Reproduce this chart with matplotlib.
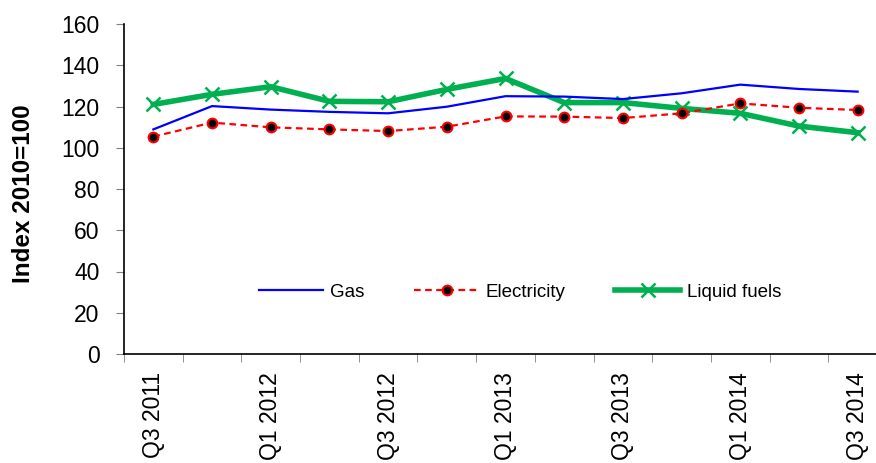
import matplotlib
matplotlib.use("Agg")
import matplotlib.pyplot as plt
import numpy as np

plt.rcParams['font.family'] = ['Liberation Sans', 'DejaVu Sans']

quarters = ["Q3 2011", "Q4 2011", "Q1 2012", "Q2 2012", "Q3 2012", "Q4 2012",
            "Q1 2013", "Q2 2013", "Q3 2013", "Q4 2013", "Q1 2014", "Q2 2014", "Q3 2014"]
gas = [108.9, 120.2, 118.5, 117.4, 116.7, 119.9, 125.0, 124.8, 123.6, 126.4, 130.6, 128.5, 127.2]
electricity = [105.4, 112.2, 109.9, 108.9, 108.1, 110.2, 115.2, 115.1, 114.4, 116.7, 121.5, 119.4, 118.3]
liquid_fuels = [121.0, 125.9, 129.6, 122.5, 122.3, 128.3, 133.6, 121.9, 121.9, 119.1, 116.7, 110.5, 107.3]

fig = plt.figure(figsize=(8.76, 4.63), dpi=100)
W, H = 876, 463
left, right, top, bottom = 124, 887, 24, 354
ax = fig.add_axes([left / W, (H - bottom) / H, (right - left) / W, (bottom - top) / H])

x = np.arange(len(quarters))
ax.plot(x, gas, color="#0000FF", lw=1.6, label="Gas", zorder=3)
ax.plot(x, electricity, color="#FF0000", lw=1.6, ls=(0, (3, 2)), marker="o",
        markersize=7, markerfacecolor="black", markeredgecolor="#FF0000",
        markeredgewidth=1.5, label="Electricity", zorder=4)
ax.plot(x, liquid_fuels, color="#00B050", lw=4, marker="x", markersize=10,
        markeredgewidth=1.8, label="Liquid fuels", zorder=2)

ax.set_xlim(-0.5, len(quarters) - 0.5)
ax.set_ylim(0, 160)
ax.set_yticks(np.arange(0, 161, 20))

ax.set_xticks(x[::2])
ax.set_xticklabels(quarters[::2], rotation=90, fontsize=16.5, va="top", ha="center")
ax.set_xticks(np.arange(-0.5, len(quarters), 1), minor=True)
ax.tick_params(axis="x", which="major", length=0, pad=13)
ax.tick_params(axis="x", which="minor", length=6, direction="out", color="#808080")
ax.tick_params(axis="y", labelsize=16.5, length=6, direction="out", color="#808080", pad=11.5)

for s in ("top", "right"):
    ax.spines[s].set_visible(False)
ax.spines["left"].set_linewidth(1.2)
ax.spines["bottom"].set_linewidth(1.2)

fig.text(24 / W, (H - 194) / H, "Index 2010=100", rotation=90, fontsize=17.5,
         fontweight="bold", ha="center", va="center")

ax.legend(loc="center", bbox_to_anchor=(0.519, 0.188), ncol=3, frameon=False,
          fontsize=13.5, handlelength=3.45, columnspacing=2.65, handletextpad=0.37)

fig.savefig("out.png", dpi=100)
